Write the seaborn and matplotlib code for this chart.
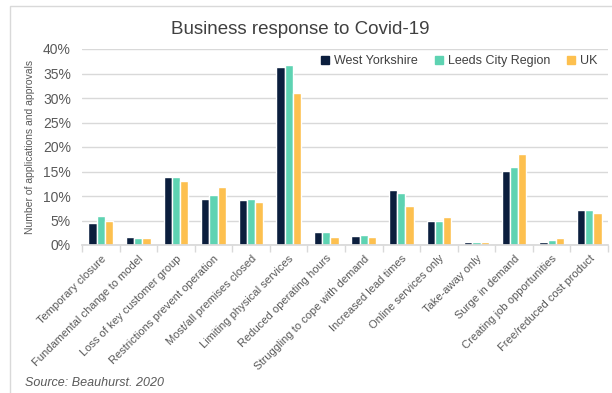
import matplotlib
matplotlib.use("Agg")
import matplotlib.pyplot as plt
import seaborn as sns
import pandas as pd
import numpy as np
from matplotlib.patches import Rectangle
from matplotlib.lines import Line2D

categories = ["Temporary closure", "Fundamental change to model", "Loss of key customer group",
              "Restrictions prevent operation", "Most/all premises closed", "Limiting physical services",
              "Reduced operating hours", "Struggling to cope with demand", "Increased lead times",
              "Online services only", "Take-away only", "Surge in demand",
              "Creating job opportunities", "Free/reduced cost product"]
west_yorkshire = [4.5, 1.6, 13.8, 9.4, 9.2, 36.3, 2.6, 1.9, 11.2, 4.8, 0.7, 15.2, 0.6, 7.1]
leeds_city_region = [5.9, 1.4, 13.9, 10.2, 9.3, 36.8, 2.6, 2.1, 10.7, 4.8, 0.6, 16.0, 1.1, 7.2]
uk = [5.0, 1.5, 13.0, 11.8, 8.8, 31.0, 1.6, 1.6, 7.9, 5.7, 0.6, 18.6, 1.4, 6.6]
series_names = ["West Yorkshire", "Leeds City Region", "UK"]
colors = ["#0b1e3d", "#5ed3b2", "#fdc04f"]
y_ticks = [0, 5, 10, 15, 20, 25, 30, 35, 40]

rows = []
for name, vals in zip(series_names, [west_yorkshire, leeds_city_region, uk]):
    for c, v in zip(categories, vals):
        rows.append({"category": c, "series": name, "value": v / 100})
df = pd.DataFrame(rows)

sns.set_theme(style="white")
plt.rcParams['font.family'] = ['Liberation Sans', 'DejaVu Sans']

fig = plt.figure(figsize=(6.12, 3.93), dpi=100)
# outer chart frame
fig.patches.append(Rectangle((10 / 612, -0.1), 1.0, 1 - 6 / 393 + 0.1, transform=fig.transFigure,
                             fill=False, edgecolor="#d9d9d9", linewidth=1.0))

ax_l, ax_r, ax_t, ax_b = 82, 608, 49, 245
ax = fig.add_axes([ax_l / 612, 1 - ax_b / 393, (ax_r - ax_l) / 612, (ax_b - ax_t) / 393])
sns.barplot(data=df, x="category", y="value", hue="series", palette=colors,
            width=0.66, saturation=1, ax=ax, legend=False)

ax.set_ylim(0, 0.40)
ax.set_xlim(-0.5, len(categories) - 0.5)
ax.set_yticks([t / 100 for t in y_ticks])
ax.set_yticklabels([f"{t}%" for t in y_ticks], color="#595959", fontsize=10)
ax.yaxis.grid(True, color="#d9d9d9", linewidth=1)
ax.set_axisbelow(True)
for s in ["top", "right", "left"]:
    ax.spines[s].set_visible(False)
ax.spines["bottom"].set_color("#d9d9d9")
ax.tick_params(axis="y", length=0, pad=8)

ax.set_xticks(range(len(categories)))
ax.set_xticklabels(categories, rotation=45, ha="right", rotation_mode="anchor",
                   fontsize=8, color="#595959")
ax.tick_params(axis="x", which="major", length=0, pad=6)
ax.set_xticks(np.arange(-0.5, len(categories), 1.0), minor=True)
ax.tick_params(axis="x", which="minor", length=5, color="#d9d9d9", width=1, bottom=True)
ax.set_xlabel("")
ax.set_ylabel("Number of applications and approvals", fontsize=7.5, color="#595959", labelpad=6)

handles = [Line2D([0], [0], marker="s", linestyle="", markersize=5.5, markerfacecolor=c,
                  markeredgecolor=c) for c in colors]
ax.legend(handles, series_names, loc="center left",
          bbox_to_anchor=((320 - ax_l) / (ax_r - ax_l), 1 - (61 - ax_t) / (ax_b - ax_t)),
          ncol=3, frameon=False, fontsize=9, handlelength=0.8, handletextpad=0.3,
          columnspacing=1.3, borderpad=0, borderaxespad=0, labelcolor="#404040")

fig.text(300 / 612, 1 - 30 / 393, "Business response to Covid-19", ha="center", va="center",
         fontsize=13.5, color="#404040")
fig.text(25 / 612, 1 - 383 / 393, "Source: Beauhurst. 2020", ha="left", va="center",
         fontsize=9, color="#595959", style="italic")

fig.savefig("out.png", dpi=100)
